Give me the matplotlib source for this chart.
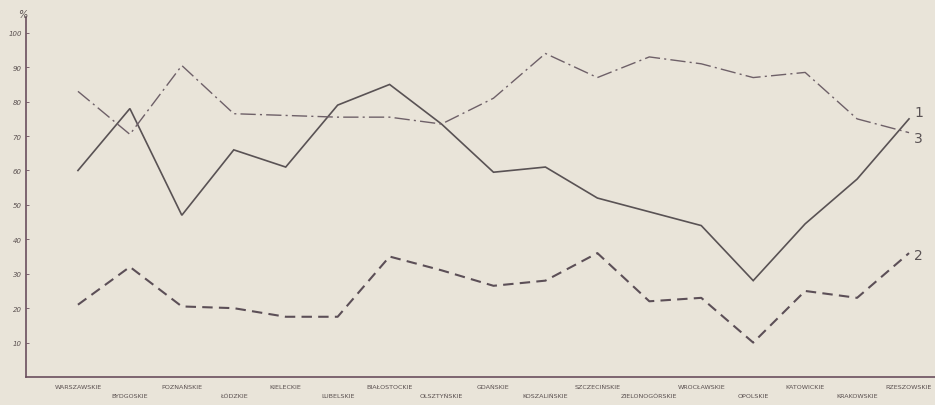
import matplotlib.pyplot as plt
import numpy as np

# voivodeships, left to right
regions = ['WARSZAWSKIE', 'BYDGOSKIE', 'POZNAŃSKIE', 'ŁÓDZKIE', 'KIELECKIE',
           'LUBELSKIE', 'BIAŁOSTOCKIE', 'OLSZTYŃSKIE', 'GDAŃSKIE',
           'KOSZALIŃSKIE', 'SZCZECIŃSKIE', 'ZIELONOGÓRSKIE', 'WROCŁAWSKIE',
           'OPOLSKIE', 'KATOWICKIE', 'KRAKOWSKIE', 'RZESZOWSKIE']

# values in %
series1 = [60, 78, 47, 66, 61, 79, 85, 73.5, 59.5, 61, 52, 48, 44, 28, 44.5, 57.5, 75]
series2 = [21, 32, 20.5, 20, 17.5, 17.5, 35, 31, 26.5, 28, 36, 22, 23, 10, 25, 23, 36]
series3 = [83, 70.5, 90.5, 76.5, 76, 75.5, 75.5, 73.5, 81, 94, 87, 93, 91, 87, 88.5, 75, 71]

yticks = [10, 20, 30, 40, 50, 60, 70, 80, 90, 100]

paper = '#e9e4d9'
ink = '#595254'
axis_col = '#6a4f5e'

fig = plt.figure(figsize=(9.35, 4.06), dpi=100, facecolor=paper)
ax = fig.add_axes([26 / 935, 28 / 406, 1 - 26 / 935, 360 / 406])
ax.set_facecolor(paper)

x = np.arange(len(regions))

ax.plot(x, series1, color=ink, lw=1.2, solid_joinstyle='miter')
ax.plot(x, series2, color='#5c4f57', lw=1.5, dashes=(5, 3))
ax.plot(x, series3, color='#6e6068', lw=1.0, dashes=(11, 3, 1.5, 3))

# curve numbers at the right end
ax.text(x[-1] + 0.1, series1[-1] + 2, '1', fontsize=10, color=ink, ha='left', va='center')
ax.text(x[-1] + 0.1, series3[-1] - 1.5, '3', fontsize=10, color=ink, ha='left', va='center')
ax.text(x[-1] + 0.1, series2[-1] - 0.5, '2', fontsize=10, color=ink, ha='left', va='center')

ax.set_xlim(-1.0, 16.5)
ax.set_ylim(0, 104.6)

ax.set_yticks(yticks)
ax.set_yticklabels([str(v) for v in yticks], fontsize=5, style='italic', color='#5a5050')
ax.tick_params(axis='y', direction='in', length=2, width=0.6, color=axis_col, pad=3)

labels = [r if i % 2 == 0 else '\n' + r for i, r in enumerate(regions)]
ax.set_xticks(x)
ax.set_xticklabels(labels, fontsize=4.6, color='#5a5050', linespacing=1.9)
ax.tick_params(axis='x', length=0, pad=5)

for s in ['top', 'right']:
    ax.spines[s].set_visible(False)
for s in ['left', 'bottom']:
    ax.spines[s].set_color(axis_col)
    ax.spines[s].set_linewidth(1.2)

ax.text(-0.004, 0.995, '%', transform=ax.transAxes, fontsize=7, style='italic',
        color='#5a5050', ha='center', va='bottom')

fig.savefig('out.png', dpi=100, facecolor=paper)
